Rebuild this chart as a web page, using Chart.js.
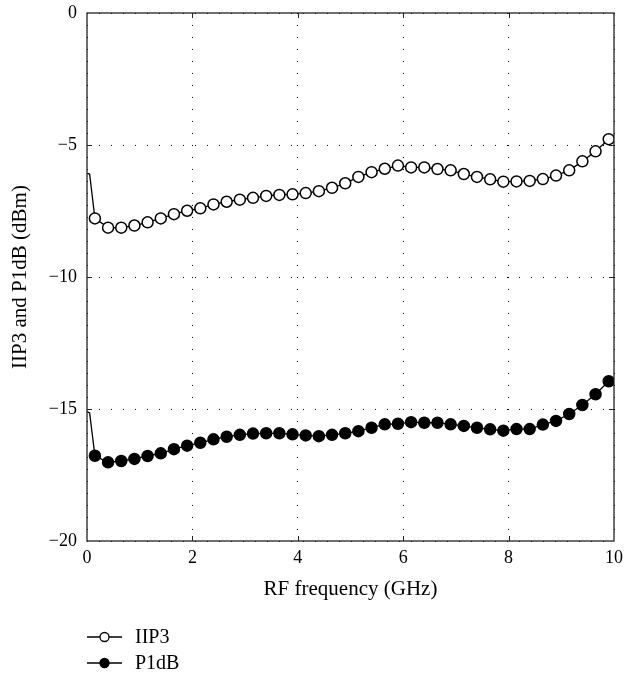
<!DOCTYPE html>
<html>
<head>
<meta charset="utf-8">
<script src="https://cdn.jsdelivr.net/npm/chart.js@4.4.1/dist/chart.umd.min.js"></script>
<style>
    body { margin: 0; background: #fff; }
    canvas { display: block; }
</style>
</head>
<body>
<canvas id="chart" width="625" height="673"></canvas>
<script>
// RF frequency (GHz) of each sample; first two are unmarked line points
const freqs = [0, 0.05,
    0.15, 0.40, 0.65, 0.90, 1.15, 1.40, 1.65, 1.90, 2.15, 2.40,
    2.65, 2.90, 3.15, 3.40, 3.65, 3.90, 4.15, 4.40, 4.65, 4.90,
    5.15, 5.40, 5.65, 5.90, 6.15, 6.40, 6.65, 6.90, 7.15, 7.40,
    7.65, 7.90, 8.15, 8.40, 8.65, 8.90, 9.15, 9.40, 9.65, 9.90];

const iip3 = [-6.07, -6.10,
    -7.78, -8.13, -8.13, -8.05, -7.93, -7.78, -7.62, -7.49, -7.40, -7.25,
    -7.15, -7.07, -7.00, -6.93, -6.89, -6.87, -6.82, -6.75, -6.62, -6.45,
    -6.21, -6.03, -5.90, -5.78, -5.85, -5.85, -5.91, -5.96, -6.10, -6.21,
    -6.30, -6.39, -6.38, -6.36, -6.29, -6.16, -5.96, -5.62, -5.24, -4.78];

const p1db = [-15.10, -15.15,
    -16.77, -17.02, -16.97, -16.89, -16.78, -16.68, -16.52, -16.39, -16.28, -16.15,
    -16.05, -15.98, -15.93, -15.92, -15.92, -15.96, -16.00, -16.03, -15.98, -15.92,
    -15.84, -15.71, -15.58, -15.56, -15.50, -15.52, -15.52, -15.58, -15.64, -15.71,
    -15.77, -15.82, -15.76, -15.76, -15.59, -15.45, -15.19, -14.85, -14.44, -13.95];

const xTicks = [0, 2, 4, 6, 8, 10];
const yTicks = [-20, -15, -10, -5, 0];

const serif = '"Liberation Serif", "DejaVu Serif", serif';
const toPoints = (vals) => freqs.map((f, i) => ({ x: f, y: vals[i] }));
const markerRadius = freqs.map((f, i) => (i < 2 ? 0 : 5.5));
const minus = (v) => String(v).replace('-', '\u2212');

// frame on all four sides with inward tick marks
const framePlugin = {
    id: 'frame',
    afterDraw(chart) {
        const { ctx, chartArea: a, scales } = chart;
        ctx.save();
        ctx.strokeStyle = '#222';
        ctx.lineWidth = 1.3;
        ctx.strokeRect(a.left, a.top, a.right - a.left, a.bottom - a.top);
        ctx.lineWidth = 1;
        ctx.beginPath();
        xTicks.slice(1, -1).forEach(v => {
            const px = Math.round(scales.x.getPixelForValue(v)) + 0.5;
            ctx.moveTo(px, a.bottom); ctx.lineTo(px, a.bottom - 5);
            ctx.moveTo(px, a.top); ctx.lineTo(px, a.top + 5);
        });
        yTicks.slice(1, -1).forEach(v => {
            const py = Math.round(scales.y.getPixelForValue(v)) + 0.5;
            ctx.moveTo(a.left, py); ctx.lineTo(a.left + 5, py);
            ctx.moveTo(a.right, py); ctx.lineTo(a.right - 5, py);
        });
        ctx.stroke();
        ctx.restore();
    }
};

// legend below the axis: short line with marker, then label
const legendPlugin = {
    id: 'bottomLegend',
    afterDraw(chart) {
        const { ctx } = chart;
        ctx.save();
        chart.data.datasets.forEach((ds, i) => {
            const y = 637 + i * 26;
            ctx.strokeStyle = '#000';
            ctx.lineWidth = 1.3;
            ctx.beginPath();
            ctx.moveTo(87, y); ctx.lineTo(122, y);
            ctx.stroke();
            ctx.beginPath();
            ctx.arc(104.5, y, 4.5, 0, Math.PI * 2);
            ctx.fillStyle = ds.pointBackgroundColor;
            ctx.fill();
            ctx.stroke();
            ctx.fillStyle = '#000';
            ctx.font = '20px ' + serif;
            ctx.textBaseline = 'middle';
            ctx.fillText(ds.label, 135, y + 1);
        });
        ctx.restore();
    }
};

new Chart(document.getElementById('chart'), {
    type: 'line',
    data: {
        datasets: [{
            label: 'IIP3',
            data: toPoints(iip3),
            borderColor: '#000',
            borderWidth: 1.3,
            pointRadius: markerRadius,
            pointBackgroundColor: '#fff',
            pointBorderColor: '#000',
            pointBorderWidth: 1.5,
            tension: 0
        }, {
            label: 'P1dB',
            data: toPoints(p1db),
            borderColor: '#000',
            borderWidth: 1.3,
            pointRadius: markerRadius,
            pointBackgroundColor: '#000',
            pointBorderColor: '#000',
            pointBorderWidth: 1.5,
            tension: 0
        }]
    },
    options: {
        responsive: false,
        animation: false,
        layout: { padding: { top: 13, right: 11, bottom: 68, left: 0 } },
        plugins: { legend: { display: false }, tooltip: { enabled: false } },
        scales: {
            x: {
                type: 'linear',
                min: 0, max: 10,
                afterBuildTicks: (s) => { s.ticks = xTicks.map(v => ({ value: v })); },
                afterFit: (s) => { s.height = 64; s.paddingLeft = 0; s.paddingRight = 0; },
                grid: { color: '#000', lineWidth: 1, drawTicks: false },
                border: { display: false, dash: [1, 11] },
                ticks: { color: '#000', padding: 6, font: { family: serif, size: 18 }, callback: minus },
                title: { display: true, text: 'RF frequency (GHz)', color: '#000', font: { family: serif, size: 21 }, padding: { top: 0, bottom: 3 } }
            },
            y: {
                type: 'linear',
                min: -20, max: 0,
                afterBuildTicks: (s) => { s.ticks = yTicks.map(v => ({ value: v })); },
                afterFit: (s) => { s.width = 87; s.paddingTop = 0; s.paddingBottom = 0; },
                grid: { color: '#000', lineWidth: 1, drawTicks: false },
                border: { display: false, dash: [1, 11] },
                ticks: { color: '#000', padding: 10, font: { family: serif, size: 18 }, callback: minus },
                title: { display: true, text: 'IIP3 and P1dB (dBm)', color: '#000', font: { family: serif, size: 21 }, padding: { top: 8, bottom: 0 } }
            }
        }
    },
    plugins: [framePlugin, legendPlugin]
});
</script>
</body>
</html>
